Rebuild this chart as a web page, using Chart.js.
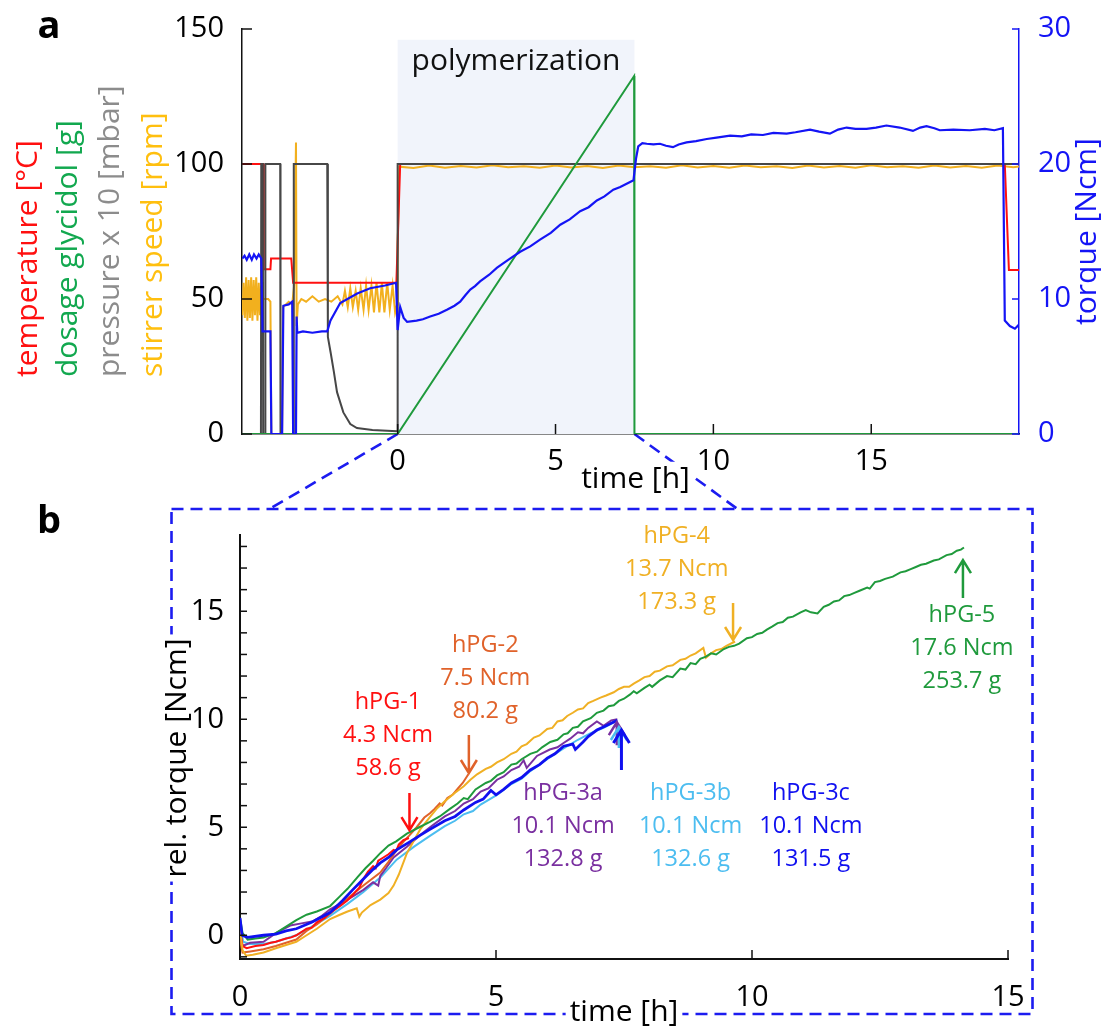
<!DOCTYPE html>
<html lang="en">
<head>
<meta charset="UTF-8">
<title>Torque during polymerization</title>
<script src="https://cdn.jsdelivr.net/npm/chart.js@4.4.1/dist/chart.umd.min.js"></script>
<style>
  body { margin: 0; background: #fff; }
  #wrap { position: relative; width: 1101px; height: 1026px; }
  canvas { position: absolute; left: 0; }
  #overlay { top: 0; z-index: 0; }
  #chartA { top: 0; z-index: 1; }
  #chartB { top: 500px; z-index: 1; }
</style>
</head>
<body>
<div id="wrap">
  <canvas id="overlay" width="1101" height="1026"></canvas>
  <canvas id="chartA" width="1101" height="500"></canvas>
  <canvas id="chartB" width="1101" height="526"></canvas>
</div>
<script>
// ---------- panel a : reactor log (time [h], value) ----------
const polyEnd = 7.5;
const temperature = [[-4.92,100],[-4.26,100],[-4.24,61],[-4.03,61],[-4.01,65],[-3.37,65],[-3.31,56],[-0.04,56],[0.08,100],[19.23,100],[19.36,60.7],[19.68,60.7]];
const dosage = [[-4.92,0],[0,0],[7.49,132.6],[7.5,0],[19.68,0]];
const pressure = [[-4.92,0],[-4.33,0],[-4.32,100],[-4.27,100],[-4.26,0],[-4.2,0],[-4.19,100],[-3.72,100],[-3.71,0],[-3.3,0],[-3.29,100],[-2.23,100],[-2.21,36],[-2.12,30],[-2.02,23],[-1.92,15.5],[-1.72,8],[-1.5,3.7],[-1.29,2.2],[-0.8,1.5],[-0.02,1],[0,100],[19.68,100]];
const stirrer = [[-4.92,44],[-4.88,56],[-4.84,43],[-4.8,58],[-4.76,42],[-4.72,57],[-4.68,43],[-4.64,58],[-4.6,42],[-4.56,57],[-4.52,44],[-4.48,58],[-4.44,42],[-4.4,56],[-4.36,44],[-4.32,55],[-4.28,49],[-4.25,50],[-4.1,50],[-4.03,49],[-4.0,0],[-3.66,0],[-3.63,47],[-3.45,49],[-3.34,48],[-3.28,55],[-3.22,108],[-3.2,40],[-3.16,48],[-3.05,50],[-2.9,49],[-2.7,51],[-2.5,49],[-2.3,50],[-2.1,49],[-1.9,51],[-1.75,48],[-1.67,53],[-1.58,47],[-1.5,54],[-1.42,47],[-1.33,53],[-1.25,46],[-1.17,54],[-1.08,46],[-1.0,55],[-0.92,46],[-0.83,55],[-0.75,45],[-0.67,56],[-0.58,45],[-0.5,56],[-0.42,45],[-0.33,56],[-0.25,46],[-0.16,55],[-0.08,45],[-0.02,48],[0.0,70],[0.05,99],[0.5,98.5],[1,99.4],[1.5,98.6],[2,99.3],[2.5,98.7],[3,99.5],[3.5,98.8],[4,99.2],[4.5,98.6],[5,99.4],[5.5,98.7],[6,99.3],[6.5,98.5],[7,99.4],[7.5,98.8],[8,99.2],[8.5,98.6],[9,99.5],[9.5,98.7],[10,99.3],[10.5,98.6],[11,99.4],[11.5,98.8],[12,99.2],[12.5,98.5],[13,99.4],[13.5,98.7],[14,99.3],[14.5,98.6],[15,99.5],[15.5,98.8],[16,99.2],[16.5,98.6],[17,99.4],[17.5,98.7],[18,99.3],[18.5,98.6],[19,99.4],[19.5,98.8],[19.68,99.1]];
const torque = [[-4.92,13.0],[-4.85,13.2],[-4.78,12.9],[-4.7,13.3],[-4.62,12.9],[-4.55,13.3],[-4.47,13.0],[-4.4,13.3],[-4.32,13.0],[-4.28,7.6],[-4.03,7.6],[-4.0,0],[-3.66,0],[-3.62,9.5],[-3.45,9.6],[-3.34,9.8],[-3.31,0],[-3.22,0],[-3.2,8.7],[-3.18,7.5],[-3.0,7.6],[-2.7,7.5],[-2.4,7.6],[-2.23,7.6],[-2.13,8.4],[-1.82,9.7],[-1.28,10.4],[-0.87,10.8],[-0.4,11.0],[-0.05,11.2],[0.0,7.7],[0.08,9.4],[0.19,8.6],[0.3,8.3],[0.6,8.4],[0.8,8.5],[1.03,8.7],[1.3,8.9],[1.56,9.2],[1.8,9.5],[1.98,9.8],[2.15,10.3],[2.3,10.7],[2.45,10.95],[2.61,11.3],[2.9,11.8],[3.14,12.3],[3.5,12.9],[3.88,13.5],[4.2,13.9],[4.51,14.4],[4.85,14.9],[5.15,15.5],[5.45,15.9],[5.78,16.5],[6.05,16.8],[6.31,17.3],[6.55,17.6],[6.83,18.1],[7.05,18.3],[7.3,18.6],[7.47,18.8],[7.55,20.4],[7.62,21.3],[7.75,21.55],[7.89,21.5],[8.1,21.45],[8.31,21.5],[8.5,21.35],[8.72,21.25],[8.9,21.45],[9.15,21.6],[9.45,21.7],[9.79,21.85],[10.1,21.95],[10.53,22.1],[10.9,22.05],[11.2,22.2],[11.57,22.15],[11.9,22.3],[12.32,22.25],[12.6,22.35],[13.06,22.55],[13.35,22.4],[13.69,22.25],[13.95,22.55],[14.22,22.7],[14.5,22.6],[14.85,22.6],[15.15,22.7],[15.48,22.85],[15.9,22.7],[16.32,22.45],[16.55,22.7],[16.75,22.8],[17.0,22.65],[17.17,22.5],[17.6,22.55],[18.12,22.5],[18.6,22.6],[18.9,22.5],[19.17,22.65],[19.23,8.4],[19.39,8.0],[19.55,7.8],[19.68,8.1]];
const timeTicksA = [0, 5, 10, 15];
const leftTicksA = [0, 50, 100, 150];
const rightTicksA = [0, 10, 20, 30];

// ---------- panel b : relative torque per batch ----------
const batchNames = ['hPG-1', 'hPG-2', 'hPG-3a', 'hPG-3b', 'hPG-3c', 'hPG-4', 'hPG-5'];
const batchTorque = ['4.3 Ncm', '7.5 Ncm', '10.1 Ncm', '10.1 Ncm', '10.1 Ncm', '13.7 Ncm', '17.6 Ncm'];
const batchMass = ['58.6 g', '80.2 g', '132.8 g', '132.6 g', '131.5 g', '173.3 g', '253.7 g'];
const hPG1 = [[0,0.2],[0.05,-0.5],[0.13,-0.6],[0.3,-0.5],[0.46,-0.45],[0.6,-0.35],[0.7,-0.3],[0.9,-0.15],[1.0,-0.1],[1.1,0.0],[1.3,0.3],[1.4,0.35],[1.5,0.6],[1.65,0.8],[1.76,1.05],[1.95,1.35],[2.09,1.6],[2.2,1.85],[2.25,2.0],[2.33,2.2],[2.41,2.6],[2.5,2.95],[2.6,3.2],[2.65,3.1],[2.7,3.45],[2.8,3.6],[2.9,3.75],[3.0,3.95],[3.05,3.9],[3.1,4.2],[3.19,4.4],[3.3,4.5]];
const hPG2 = [[0,-0.2],[0.05,-0.8],[0.2,-0.75],[0.46,-0.65],[0.7,-0.5],[0.9,-0.35],[1.1,-0.2],[1.3,0.2],[1.5,0.5],[1.76,1.0],[2.0,1.5],[2.2,1.9],[2.41,2.3],[2.6,2.65],[2.74,2.9],[2.9,3.4],[3.06,3.95],[3.2,4.35],[3.3,4.6],[3.45,5.0],[3.6,5.45],[3.71,5.65],[3.8,5.85],[3.9,6.1],[3.95,6.0],[4.05,6.35],[4.15,6.5],[4.24,6.75],[4.35,7.05],[4.46,7.45]];
const hPG3a = [[0,0.3],[0.05,-0.5],[0.2,-0.35],[0.46,-0.3],[0.7,0.1],[0.98,0.45],[1.2,0.55],[1.43,0.65],[1.6,0.9],[1.76,1.2],[2.1,1.65],[2.41,2.1],[2.6,2.45],[2.7,2.3],[2.74,2.75],[2.85,3.1],[3.0,3.6],[3.26,4.1],[3.5,4.6],[3.71,5.0],[4.0,5.5],[4.2,5.75],[4.37,6.1],[4.55,6.3],[4.7,6.65],[4.85,6.8],[5.02,7.2],[5.15,7.35],[5.3,7.65],[5.45,7.8],[5.54,8.1],[5.6,7.75],[5.8,8.3],[6.05,8.6],[6.2,8.7],[6.32,8.9],[6.45,9.1],[6.6,9.4],[6.7,9.35],[6.8,9.6],[6.97,9.9],[7.1,9.7],[7.25,9.95],[7.37,10.0]];
const hPG3b = [[0,0.6],[0.06,-0.3],[0.2,-0.4],[0.46,-0.4],[0.7,-0.3],[0.9,-0.15],[1.1,0.0],[1.4,0.4],[1.76,0.9],[2.1,1.45],[2.41,2.0],[2.75,2.7],[3.06,3.5],[3.4,4.1],[3.71,4.6],[4.0,5.05],[4.2,5.3],[4.37,5.6],[4.55,5.75],[4.7,6.05],[5.02,6.5],[5.3,7.0],[5.5,7.25],[5.67,7.6],[6.0,8.15],[6.32,8.65],[6.6,9.05],[6.84,9.35],[7.1,9.6],[7.3,9.85]];
const hPG3c = [[0,0.8],[0.04,0.0],[0.15,-0.1],[0.46,0.0],[0.7,0.05],[0.9,0.2],[1.1,0.3],[1.4,0.6],[1.76,1.05],[2.0,1.6],[2.2,2.1],[2.41,2.6],[2.6,3.05],[2.74,3.35],[2.9,3.6],[3.06,3.95],[3.3,4.3],[3.5,4.6],[3.71,4.9],[4.0,5.3],[4.2,5.5],[4.37,5.8],[4.6,6.15],[4.75,6.3],[4.9,6.7],[5.0,6.5],[5.15,6.75],[5.3,7.05],[5.5,7.3],[5.67,7.65],[5.85,7.9],[6.0,8.2],[6.15,8.4],[6.32,8.75],[6.5,8.85],[6.55,8.6],[6.7,8.95],[6.8,9.2],[6.97,9.5],[7.15,9.7],[7.37,9.95]];
const hPG4 = [[0,0.3],[0.05,-0.7],[0.12,-0.95],[0.25,-0.9],[0.46,-0.8],[0.7,-0.6],[0.9,-0.45],[1.1,-0.3],[1.3,0.0],[1.5,0.3],[1.76,0.75],[1.95,0.95],[2.1,1.1],[2.28,1.25],[2.33,0.85],[2.38,1.05],[2.55,1.4],[2.74,1.65],[2.9,1.95],[3.0,2.3],[3.1,2.8],[3.26,3.8],[3.4,4.4],[3.52,4.9],[3.7,5.45],[3.84,5.85],[4.0,6.2],[4.2,6.6],[4.37,6.9],[4.5,7.2],[4.63,7.45],[4.8,7.7],[4.9,7.8],[5.02,8.0],[5.15,8.15],[5.3,8.4],[5.4,8.5],[5.5,8.75],[5.6,8.85],[5.74,9.15],[5.85,9.25],[6.0,9.55],[6.1,9.6],[6.2,9.9],[6.3,9.95],[6.39,10.15],[6.5,10.3],[6.6,10.45],[6.7,10.5],[6.8,10.75],[6.9,10.85],[7.04,11.0],[7.15,11.1],[7.3,11.25],[7.4,11.4],[7.5,11.5],[7.6,11.5],[7.69,11.65],[7.8,11.8],[7.9,11.95],[8.0,12.0],[8.1,12.2],[8.2,12.25],[8.34,12.45],[8.45,12.5],[8.6,12.75],[8.7,12.8],[8.8,12.95],[8.9,13.05],[9.05,13.3],[9.1,12.85],[9.2,13.05],[9.3,13.2],[9.4,13.25],[9.5,13.4],[9.67,13.6]];
const hPG5 = [[0,0.8],[0.05,0.1],[0.15,-0.2],[0.3,-0.15],[0.46,-0.1],[0.7,0.1],[0.9,0.4],[1.1,0.7],[1.3,0.95],[1.5,1.1],[1.76,1.35],[1.95,1.8],[2.1,2.15],[2.3,2.7],[2.45,3.1],[2.6,3.45],[2.74,3.8],[2.9,4.15],[3.05,4.35],[3.26,4.7],[3.5,5.0],[3.71,5.25],[3.9,5.5],[4.1,5.85],[4.25,6.1],[4.37,6.35],[4.45,6.3],[4.6,6.75],[4.8,7.05],[4.9,7.15],[5.02,7.4],[5.15,7.55],[5.3,7.9],[5.4,7.95],[5.5,8.15],[5.67,8.4],[5.8,8.5],[5.9,8.7],[6.06,8.95],[6.2,9.05],[6.32,9.3],[6.4,9.35],[6.5,9.6],[6.6,9.65],[6.7,9.9],[6.85,10.05],[6.97,10.3],[7.1,10.4],[7.2,10.6],[7.3,10.65],[7.4,10.85],[7.5,10.95],[7.62,11.15],[7.69,11.3],[7.75,11.2],[7.9,11.45],[8.0,11.6],[8.05,11.5],[8.2,11.8],[8.34,12.0],[8.45,11.95],[8.6,12.35],[8.7,12.3],[8.8,12.6],[8.9,12.55],[8.99,12.8],[9.1,12.9],[9.2,13.05],[9.3,13.0],[9.45,13.25],[9.55,13.35],[9.65,13.4],[9.75,13.5],[9.9,13.75],[10.0,13.8],[10.1,13.95],[10.2,14.0],[10.29,14.15],[10.4,14.3],[10.5,14.45],[10.6,14.5],[10.7,14.7],[10.8,14.75],[10.95,14.95],[11.05,15.05],[11.15,14.95],[11.28,14.9],[11.4,15.2],[11.5,15.3],[11.6,15.45],[11.7,15.5],[11.8,15.7],[11.9,15.75],[12.0,15.85],[12.1,15.95],[12.25,16.1],[12.3,16.05],[12.4,16.35],[12.5,16.4],[12.6,16.5],[12.75,16.6],[12.9,16.8],[13.0,16.85],[13.1,16.95],[13.2,17.05],[13.3,17.15],[13.4,17.2],[13.55,17.35],[13.65,17.4],[13.8,17.6],[13.9,17.65],[14.0,17.8],[14.08,17.85],[14.14,17.95]];
const timeTicksB = [0, 5, 10, 15];
const relTicks = [0, 5, 10, 15];
const relMinorTicks = [-1,0,1,2,3,4,5,6,7,8,9,10,11,12,13,14,15,16,17,18];

const FONT = "'Open Sans', sans-serif";
const BLUE = '#1414f5';
const pts = arr => arr.map(([x, y]) => ({ x, y }));
const fixTicks = vals => s => { s.ticks = vals.map(v => ({ value: v })); };

Chart.defaults.font.family = FONT;
Chart.defaults.color = '#000';

// light band behind the dosing phase
const shade = {
  id: 'shade',
  beforeDatasetsDraw(chart, args, o) {
    if (!o.color) return;
    const x = chart.scales.x, y = chart.scales[o.axis];
    const ctx = chart.ctx;
    ctx.save();
    ctx.fillStyle = o.color;
    const x0 = x.getPixelForValue(o.from), x1 = x.getPixelForValue(o.to);
    const y0 = y.getPixelForValue(o.top), y1 = y.getPixelForValue(0);
    ctx.fillRect(x0, y0, x1 - x0, y1 - y0);
    ctx.restore();
  }
};

// tick marks pointing into the plot
const innerTicks = {
  id: 'innerTicks',
  afterDraw(chart, args, o) {
    const ctx = chart.ctx, ca = chart.chartArea;
    ctx.save();
    (o.list || []).forEach(t => {
      const s = chart.scales[t.axis];
      ctx.strokeStyle = t.color;
      ctx.lineWidth = 1.5;
      t.values.forEach(v => {
        const p = s.getPixelForValue(v);
        ctx.beginPath();
        if (s.isHorizontal()) { ctx.moveTo(p, ca.bottom); ctx.lineTo(p, ca.bottom - t.len); }
        else if (s.position === 'left') { ctx.moveTo(ca.left, p); ctx.lineTo(ca.left + t.len, p); }
        else { ctx.moveTo(ca.right, p); ctx.lineTo(ca.right - t.len, p); }
        ctx.stroke();
      });
    });
    ctx.restore();
  }
};

const arrows = {
  id: 'arrows',
  afterDatasetsDraw(chart, args, o) {
    const ctx = chart.ctx, xs = chart.scales.x, ys = chart.scales.y;
    (o.items || []).forEach(a => {
      const x = xs.getPixelForValue(a.t);
      const y0 = ys.getPixelForValue(a.from), y1 = ys.getPixelForValue(a.to);
      const dir = Math.sign(y1 - y0);
      ctx.save();
      ctx.strokeStyle = a.color;
      ctx.lineWidth = a.w || 2.5;
      ctx.beginPath();
      ctx.moveTo(x, y0); ctx.lineTo(x, y1);
      ctx.moveTo(x - 8, y1 - dir * 13); ctx.lineTo(x, y1); ctx.lineTo(x + 8, y1 - dir * 13);
      ctx.stroke();
      ctx.restore();
    });
  }
};

const texts = {
  id: 'texts',
  afterDraw(chart, args, o) {
    const ctx = chart.ctx;
    (o.items || []).forEach(it => {
      const [x, y] = it.at(chart);
      ctx.save();
      ctx.translate(x, y);
      if (it.rot) ctx.rotate(it.rot);
      ctx.font = it.font;
      ctx.textAlign = it.align || 'center';
      ctx.textBaseline = 'middle';
      [].concat(it.text).forEach((ln, i) => {
        const ly = i * (it.lh || 0);
        if (it.bg) {
          const w = ctx.measureText(ln).width, h = it.size * 1.15;
          const x0 = it.align === 'left' ? -4 : -w / 2 - 4;
          ctx.fillStyle = it.bg;
          ctx.fillRect(x0, ly - h / 2, w + 8, h);
        }
        ctx.fillStyle = it.color;
        ctx.fillText(ln, 0, ly);
      });
      ctx.restore();
    });
  }
};

const lineSet = (label, data, color, axis, w) => ({
  label, data: pts(data), borderColor: color, yAxisID: axis,
  borderWidth: w || 2, pointRadius: 0, tension: 0, fill: false
});

// ---------- chart a ----------
const chartA = new Chart(document.getElementById('chartA'), {
  type: 'line',
  data: {
    datasets: [
      lineSet('torque', torque, BLUE, 'yR', 2.2),
      lineSet('dosage glycidol', dosage, '#1f9a3c', 'yL'),
      lineSet('pressure', pressure, '#474747', 'yL'),
      lineSet('temperature', temperature, '#ff1010', 'yL'),
      lineSet('stirrer speed', stirrer, '#f2b01e', 'yL')
    ]
  },
  options: {
    responsive: false,
    animation: false,
    layout: { padding: { top: 29, left: 0, right: 0, bottom: 0 } },
    scales: {
      x: {
        type: 'linear', min: -4.93, max: 19.68,
        afterBuildTicks: fixTicks(timeTicksA),
        afterFit: s => { s.height = 66; },
        grid: { display: false },
        border: { color: '#111', width: 1.5 },
        ticks: { padding: 2, font: { size: 29 }, color: '#000' }
      },
      yL: {
        position: 'left', min: 0, max: 150,
        afterBuildTicks: fixTicks(leftTicksA),
        afterFit: s => { s.width = 242; },
        grid: { display: false },
        border: { color: '#111', width: 1.5 },
        ticks: { padding: 10, font: { size: 29 }, color: '#000' }
      },
      yR: {
        position: 'right', min: 0, max: 30,
        afterBuildTicks: fixTicks(rightTicksA),
        afterFit: s => { s.width = 82; },
        grid: { display: false },
        border: { color: BLUE, width: 1.5 },
        ticks: { padding: 11, font: { size: 29 }, color: BLUE }
      }
    },
    plugins: {
      legend: { display: false },
      tooltip: { enabled: false },
      shade: { color: '#f1f4fb', axis: 'yL', from: 0, to: polyEnd, top: 146 },
      innerTicks: { list: [
        { axis: 'x', values: timeTicksA, len: 10, color: '#111' },
        { axis: 'yL', values: leftTicksA, len: 10, color: '#111' },
        { axis: 'yR', values: rightTicksA, len: 7, color: BLUE }
      ] },
      texts: { items: [
        { text: 'a', at: () => [49, 27], font: 'bold 38px ' + FONT, color: '#000' },
        { text: 'polymerization', size: 30, font: '30px ' + FONT, color: '#111',
          at: c => [c.scales.x.getPixelForValue(polyEnd / 2), c.scales.yL.getPixelForValue(138)] },
        { text: 'time [h]', size: 30, font: '30px ' + FONT, color: '#000', bg: '#fff',
          at: c => [(c.chartArea.left + c.chartArea.right) / 2 + 5, c.chartArea.bottom + 45] },
        { text: 'torque [Ncm]', size: 30, font: '30px ' + FONT, color: BLUE, rot: -Math.PI / 2,
          at: c => [c.chartArea.right + 68, (c.chartArea.top + c.chartArea.bottom) / 2] },
        { text: 'temperature [°C]', size: 30, font: '30px ' + FONT, color: '#ff1010', align: 'left', rot: -Math.PI / 2, at: () => [28, 377] },
        { text: 'dosage glycidol [g]', size: 30, font: '30px ' + FONT, color: '#12a84f', align: 'left', rot: -Math.PI / 2, at: () => [68, 377] },
        { text: 'pressure x 10 [mbar]', size: 30, font: '30px ' + FONT, color: '#8c8c8c', align: 'left', rot: -Math.PI / 2, at: () => [110, 377] },
        { text: 'stirrer speed [rpm]', size: 30, font: '30px ' + FONT, color: '#ffbf0f', align: 'left', rot: -Math.PI / 2, at: () => [153, 377] }
      ] }
    }
  },
  plugins: [shade, innerTicks, texts]
});

// ---------- chart b ----------
const batchColors = ['#ff1010', '#e0622a', '#7a30a0', '#4cbdf0', '#1010f0', '#f0b024', '#1f9a3c'];
const annoFont = '23.5px ' + FONT;
const anno = (i, t, v) => ({
  text: [batchNames[i], batchTorque[i], batchMass[i]], lh: 33, size: 23.5, font: annoFont, color: batchColors[i],
  at: c => [c.scales.x.getPixelForValue(t), c.scales.y.getPixelForValue(v)]
});

const chartB = new Chart(document.getElementById('chartB'), {
  type: 'line',
  data: {
    datasets: [
      lineSet('hPG-3c', hPG3c, batchColors[4], 'y', 2.8),
      lineSet('hPG-5', hPG5, batchColors[6], 'y'),
      lineSet('hPG-4', hPG4, batchColors[5], 'y'),
      lineSet('hPG-1', hPG1, batchColors[0], 'y'),
      lineSet('hPG-2', hPG2, batchColors[1], 'y'),
      lineSet('hPG-3a', hPG3a, batchColors[2], 'y'),
      lineSet('hPG-3b', hPG3b, batchColors[3], 'y')
    ]
  },
  options: {
    responsive: false,
    animation: false,
    layout: { padding: { top: 35, left: 0, right: 93, bottom: 0 } },
    scales: {
      x: {
        type: 'linear', min: 0, max: 15,
        afterBuildTicks: fixTicks(timeTicksB),
        afterFit: s => { s.height = 67; },
        grid: { display: false },
        border: { color: '#111', width: 2 },
        ticks: { padding: 13, font: { size: 29 }, color: '#000' }
      },
      y: {
        position: 'left', min: -1.1, max: 18.53,
        afterBuildTicks: fixTicks(relTicks),
        afterFit: s => { s.width = 240; },
        grid: { display: false },
        border: { color: '#111', width: 2 },
        ticks: { padding: 8, font: { size: 29 }, color: '#000' }
      }
    },
    plugins: {
      legend: { display: false },
      tooltip: { enabled: false },
      innerTicks: { list: [
        { axis: 'x', values: timeTicksB, len: 9, color: '#111' },
        { axis: 'y', values: relMinorTicks, len: 7, color: '#111' }
      ] },
      arrows: { items: [
        { t: 3.31, from: 6.58, to: 4.87, color: batchColors[0] },
        { t: 4.47, from: 9.27, to: 7.51, color: batchColors[1] },
        { t: 7.36, from: 8.8, to: 9.87, color: batchColors[2] },
        { t: 7.40, from: 8.67, to: 9.64, color: batchColors[3] },
        { t: 7.45, from: 7.65, to: 9.5, color: batchColors[4], w: 3 },
        { t: 9.63, from: 15.38, to: 13.67, color: batchColors[5] },
        { t: 14.12, from: 15.61, to: 17.37, color: batchColors[6] }
      ] },
      texts: { items: [
        { text: 'b', at: () => [49, 22], font: 'bold 38px ' + FONT, color: '#000' },
        { text: 'rel. torque [Ncm]', size: 30, font: '30px ' + FONT, color: '#000', bg: '#fff', rot: -Math.PI / 2,
          at: c => [c.chartArea.left - 63, (c.chartArea.top + c.chartArea.bottom) / 2 + 11] },
        { text: 'time [h]', size: 30, font: '30px ' + FONT, color: '#000', bg: '#fff',
          at: c => [(c.chartArea.left + c.chartArea.right) / 2, c.chartArea.bottom + 53] },
        anno(0, 2.89, 10.8),
        anno(1, 4.79, 13.44),
        anno(2, 6.31, 6.57),
        anno(3, 8.80, 6.57),
        anno(4, 11.15, 6.57),
        anno(5, 8.53, 18.45),
        anno(6, 14.1, 14.82)
      ] }
    }
  },
  plugins: [innerTicks, arrows, texts]
});

// ---------- dashed zoom frame linking a -> b ----------
(function drawFrame() {
  const ctx = document.getElementById('overlay').getContext('2d');
  const ax = chartA.scales.x, ay = chartA.scales.yL;
  const top = document.getElementById('chartB').offsetTop;
  const ca = chartB.chartArea;
  const l = ca.left - 68.5, r = ca.right + 24.5, t = top + ca.top - 26, b = top + ca.bottom + 55;
  ctx.strokeStyle = '#1c1cf0';
  ctx.lineWidth = 2.6;
  ctx.setLineDash([12, 7]);
  ctx.strokeRect(l, t, r - l, b - t);
  ctx.beginPath();
  ctx.moveTo(ax.getPixelForValue(0), ay.getPixelForValue(0));
  ctx.lineTo(l + 98, t);
  ctx.moveTo(ax.getPixelForValue(polyEnd), ay.getPixelForValue(0));
  ctx.lineTo(l + 566, t);
  ctx.stroke();
})();
</script>
</body>
</html>
